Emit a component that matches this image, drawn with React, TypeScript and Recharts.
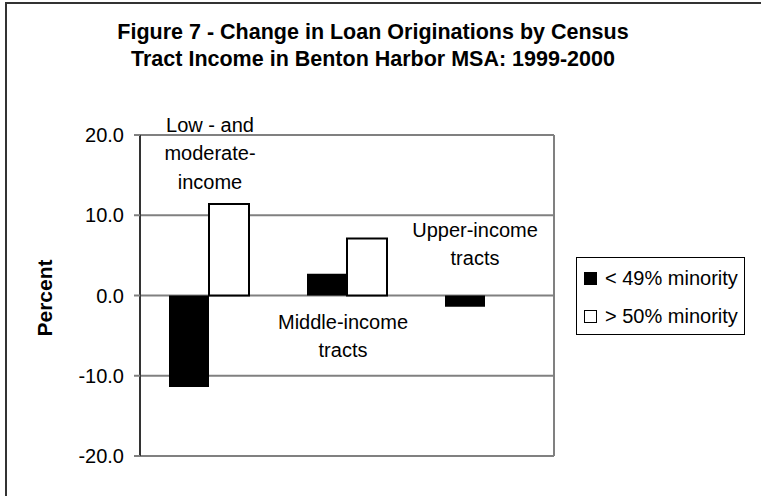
import { BarChart, Bar, XAxis, YAxis, CartesianGrid, ReferenceDot } from "recharts";

const tracts = ["Low- and moderate-income", "Middle-income tracts", "Upper-income tracts"];
const tractLines = [["Low - and", "moderate-", "income"], ["Middle-income", "tracts"], ["Upper-income", "tracts"]];
const under49 = [-11.4, 2.7, -1.4];
const over50 = [11.4, 7.1, 0];
const yTicks = [-20, -10, 0, 10, 20];
const legendNames = ["< 49% minority", "> 50% minority"];

// caption placement: value where the first line sits, and a small x nudge
const captionAt = [21.25, -3.3, 8.2];
const captionDx = [1, -4, -10];

const FONT = "'Liberation Sans', Arial, sans-serif";

const data = tracts.map((t, i) => ({ tract: t, under: under49[i], over: over50[i] }));

function Caption(props: any) {
  const { viewBox, lines, dx } = props;
  const cx = viewBox.x + viewBox.width / 2 + dx;
  const cy = viewBox.y + viewBox.height / 2;
  return (
    <text textAnchor="middle" fontSize={20} fontFamily={FONT} fill="#000">
      {lines.map((l: string, i: number) => (
        <tspan key={i} x={cx} y={cy + 7 + i * 28.5}>
          {l}
        </tspan>
      ))}
    </text>
  );
}

export default function App() {
  return (
    <div
      style={{
        position: "absolute",
        left: 0,
        top: 0,
        width: 761,
        height: 496,
        overflow: "hidden",
        background: "#fff",
        fontFamily: FONT,
      }}
    >
      <div
        style={{
          position: "absolute",
          left: 5,
          top: 2,
          right: -10,
          bottom: -10,
          borderLeft: "2px solid #333",
          borderTop: "2px solid #333",
        }}
      />
      <div
        style={{
          position: "absolute",
          left: 0,
          top: 19,
          width: 746,
          textAlign: "center",
          fontWeight: "bold",
          fontSize: 21.5,
          lineHeight: "27px",
          color: "#000",
        }}
      >
        Figure 7 - Change in Loan Originations by Census
        <br />
        Tract Income in Benton Harbor MSA: 1999-2000
      </div>
      <div
        style={{
          position: "absolute",
          left: 45,
          top: 298,
          transform: "translate(-50%, -50%) rotate(-90deg)",
          fontWeight: "bold",
          fontSize: 21,
          whiteSpace: "nowrap",
        }}
      >
        Percent
      </div>
      <div style={{ position: "absolute", left: 0, top: 0 }}>
        <BarChart
          width={761}
          height={496}
          data={data}
          margin={{ top: 135, right: 206, bottom: 40, left: 0 }}
          barSize={40}
          barGap={0}
        >
          <CartesianGrid vertical={false} stroke="#808080" strokeWidth={2} />
          <XAxis dataKey="tract" hide />
          <YAxis
            domain={[-20, 20]}
            ticks={yTicks}
            width={140}
            tickFormatter={(v) => (typeof v === "number" ? v.toFixed(1) : "")}
            tick={{ fontSize: 20, fill: "#000", fontFamily: FONT }}
            tickSize={6}
            tickMargin={10}
            tickLine={{ stroke: "#808080", strokeWidth: 2 }}
            axisLine={{ stroke: "#333", strokeWidth: 2 }}
          />
          <YAxis
            yAxisId="edge"
            orientation="right"
            domain={[-20, 20]}
            width={1}
            tick={false}
            tickLine={false}
            axisLine={{ stroke: "#808080", strokeWidth: 2 }}
          />
          <Bar dataKey="under" fill="#000" isAnimationActive={false} />
          <Bar dataKey="over" fill="#fff" stroke="#000" strokeWidth={2} isAnimationActive={false} />
          {tracts.map((t, i) => (
            <ReferenceDot
              key={t}
              x={t}
              y={captionAt[i]}
              r={1}
              fill="none"
              stroke="none"
              ifOverflow="visible"
              label={(p: any) => <Caption {...p} lines={tractLines[i]} dx={captionDx[i]} />}
            />
          ))}
        </BarChart>
      </div>
      <div
        style={{
          position: "absolute",
          left: 576,
          top: 257,
          width: 167,
          height: 76,
          border: "1px solid #000",
          fontSize: 20,
          color: "#000",
        }}
      >
        {legendNames.map((n, i) => (
          <div
            key={n}
            style={{
              position: "absolute",
              left: 7,
              top: 8 + i * 38,
              height: 24,
              display: "flex",
              alignItems: "center",
              whiteSpace: "nowrap",
            }}
          >
            <span
              style={{
                display: "inline-block",
                width: i === 0 ? 13 : 11,
                height: i === 0 ? 13 : 11,
                background: i === 0 ? "#000" : "#fff",
                border: i === 0 ? "none" : "1px solid #000",
                marginRight: 8,
              }}
            />
            {n}
          </div>
        ))}
      </div>
    </div>
  );
}
